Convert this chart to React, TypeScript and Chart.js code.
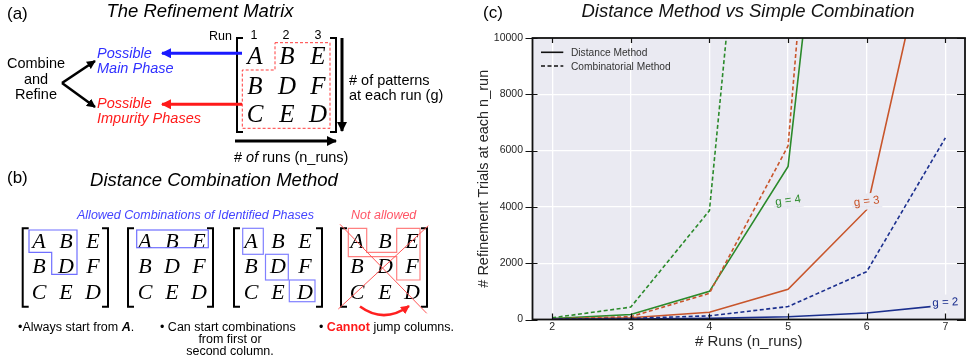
import React, { useEffect, useRef } from "react";
import { Chart, registerables } from "chart.js";
Chart.register(...registerables);

// ---------- data ----------
const runs = [2, 3, 4, 5, 6, 7];
const yTicks = [0, 2000, 4000, 6000, 8000, 10000];
const distG2 = [6, 16, 40, 100, 230, 510];
const combG2 = [10, 40, 130, 460, 1700, 6450];
const distG3 = [12, 60, 260, 1075, 3900, 16300];
const combG3 = [20, 100, 930, 6170, 39500, 240000];
const distG4 = [30, 175, 1000, 5440, 30000, 160000];
const combG4 = [60, 440, 3870, 32600, 270000, 2000000];

const BLUE = "#1b2f8e";
const ORANGE = "#c8552b";
const GREEN = "#2b8a2b";
const BG = "#EAEAF2";
const FONT = "'Liberation Sans', Arial, Helvetica, sans-serif";
const SERIF = "'Liberation Serif', 'Times New Roman', serif";

const seriesLabels = [
  { text: "g = 4", x: 5.0, y: 4220, color: GREEN, angle: -8 },
  { text: "g = 3", x: 6.0, y: 4190, color: ORANGE, angle: -7 },
  { text: "g = 2", x: 7.0, y: 600, color: BLUE, angle: -3 },
];

const pts = (arr: number[]) => runs.map((r, i) => ({ x: r, y: arr[i] }));

const decorPlugin = {
  id: "decor",
  beforeDraw(chart: any) {
    const { ctx, chartArea: a } = chart;
    ctx.save();
    ctx.fillStyle = BG;
    ctx.fillRect(a.left, a.top, a.right - a.left, a.bottom - a.top);
    ctx.restore();
  },
  afterDatasetsDraw(chart: any) {
    const { ctx } = chart;
    const xs = chart.scales.x;
    const ys = chart.scales.y;
    for (const l of seriesLabels) {
      const px = xs.getPixelForValue(l.x);
      const py = ys.getPixelForValue(l.y);
      ctx.save();
      ctx.translate(px, py);
      ctx.rotate((l.angle * Math.PI) / 180);
      ctx.font = `11.5px ${FONT}`;
      const w = ctx.measureText(l.text).width;
      ctx.fillStyle = BG;
      ctx.fillRect(-w / 2 - 2, -8, w + 4, 16);
      ctx.fillStyle = l.color;
      ctx.textAlign = "center";
      ctx.textBaseline = "middle";
      ctx.fillText(l.text, 0, 0);
      ctx.restore();
    }
  },
  afterDraw(chart: any) {
    const { ctx, chartArea: a } = chart;
    const xs = chart.scales.x;
    const ys = chart.scales.y;
    ctx.save();
    ctx.strokeStyle = "#111";
    ctx.lineWidth = 1.2;
    ctx.beginPath();
    for (const v of runs) {
      const px = Math.round(xs.getPixelForValue(v)) + 0.5;
      ctx.moveTo(px, a.top);
      ctx.lineTo(px, a.top + 5);
      ctx.moveTo(px, a.bottom);
      ctx.lineTo(px, a.bottom - 6);
    }
    for (const v of yTicks) {
      const py = Math.round(ys.getPixelForValue(v)) + 0.5;
      ctx.moveTo(a.left - 7, py);
      ctx.lineTo(a.left + 5, py);
      ctx.moveTo(a.right + 1, py);
      ctx.lineTo(a.right - 8, py);
    }
    ctx.stroke();
    ctx.lineWidth = 1.8;
    ctx.strokeStyle = "#111";
    ctx.strokeRect(a.left, a.top, a.right - a.left, a.bottom - a.top);
    ctx.restore();
  },
};

function ChartPanel() {
  const ref = useRef<HTMLCanvasElement | null>(null);
  useEffect(() => {
    if (!ref.current) return;
    const line = (arr: number[], color: string, dashed: boolean) => ({
      data: pts(arr),
      borderColor: color,
      backgroundColor: color,
      borderWidth: 1.6,
      borderDash: dashed ? [4, 2.5] : [],
      pointRadius: 0,
      tension: 0,
      fill: false,
      clip: 0,
    });
    const chart = new Chart(ref.current, {
      type: "line",
      data: {
        datasets: [
          line(distG2, BLUE, false),
          line(combG2, BLUE, true),
          line(distG3, ORANGE, false),
          line(combG3, ORANGE, true),
          line(distG4, GREEN, false),
          line(combG4, GREEN, true),
        ] as any,
      },
      options: {
        responsive: false,
        animation: false,
        devicePixelRatio: 1,
        layout: { padding: { left: 0, top: 38, right: 5, bottom: 0 } },
        plugins: {
          legend: { display: false },
          tooltip: { enabled: false },
        },
        scales: {
          x: {
            type: "linear",
            min: 1.75,
            max: 7.25,
            afterBuildTicks: (s: any) => {
              s.ticks = runs.map((v) => ({ value: v }));
            },
            afterFit: (s: any) => {
              s.height = 37.5;
            },
            grid: { color: "#ffffff", lineWidth: 1.3, drawTicks: false },
            border: { display: false },
            ticks: {
              padding: 1,
              color: "#262626",
              font: { family: FONT, size: 10.5 },
              callback: (v: any) => String(v),
            },
            title: {
              display: true,
              text: "# Runs (n_runs)",
              color: "#262626",
              font: { family: FONT, size: 15 },
              padding: { top: 0, bottom: 6 },
            },
          },
          y: {
            type: "linear",
            min: 0,
            max: 10000,
            afterBuildTicks: (s: any) => {
              s.ticks = yTicks.map((v) => ({ value: v }));
            },
            afterFit: (s: any) => {
              s.width = 72.5;
            },
            grid: { color: "#ffffff", lineWidth: 1.3, drawTicks: false },
            border: { display: false },
            ticks: {
              padding: 9.5,
              color: "#262626",
              font: { family: FONT, size: 10.5 },
              callback: (v: any) => String(v),
            },
            title: {
              display: true,
              text: "# Refinement Trials at each n_run",
              color: "#262626",
              font: { family: FONT, size: 14.5 },
              padding: { top: 15, bottom: 0 },
            },
          },
        },
      } as any,
      plugins: [decorPlugin],
    });
    return () => chart.destroy();
  }, []);
  return (
    <canvas
      ref={ref}
      width={510}
      height={357}
      style={{ position: "absolute", left: 460, top: 0, width: 510, height: 357 }}
    />
  );
}

const matA = [
  ["A", "B", "E"],
  ["B", "D", "F"],
  ["C", "E", "D"],
];

function Matrix(props: { xs: number[]; ys: number[]; size: number; left: number; right: number; top: number; bottom: number }) {
  const { xs, ys, size, left, right, top, bottom } = props;
  return (
    <g>
      <path d={`M${left + 6},${top} L${left},${top} L${left},${bottom} L${left + 6},${bottom}`} stroke="#000" strokeWidth={2} fill="none" />
      <path d={`M${right - 6},${top} L${right},${top} L${right},${bottom} L${right - 6},${bottom}`} stroke="#000" strokeWidth={2} fill="none" />
      {matA.map((row, r) =>
        row.map((c, k) => (
          <text key={`${r}-${k}`} x={xs[k]} y={ys[r]} fontFamily={SERIF} fontStyle="italic" fontSize={size} textAnchor="middle" dominantBaseline="central" fill="#000">
            {c}
          </text>
        ))
      )}
    </g>
  );
}

function Diagrams() {
  const T = { fontFamily: FONT, dominantBaseline: "central" as const };
  const rowsB = [240, 265.7, 291.7];
  return (
    <svg width={970} height={357} style={{ position: "absolute", left: 0, top: 0, pointerEvents: "none" }}>
      <defs>
        {[["ahK", "#000"], ["ahB", "#1a1aff"], ["ahR", "#ff1a1a"], ["ahR2", "#ff2020"]].map(([id, c]) => (
          <marker key={id} id={id} viewBox="0 0 10 10" refX="9" refY="5" markerWidth="3.4" markerHeight="3.4" orient="auto">
            <path d="M0,0 L10,5 L0,10 z" fill={c} />
          </marker>
        ))}
      </defs>

      {/* ---------- (a) ---------- */}
      <text {...T} x={7} y={13.5} fontSize={17}>(a)</text>
      <text {...T} x={200} y={10} fontSize={18.5} fontStyle="italic" textAnchor="middle">The Refinement Matrix</text>
      <text {...T} x={209} y={36} fontSize={12.5}>Run</text>
      <text {...T} x={254} y={35} fontSize={12.5} textAnchor="middle">1</text>
      <text {...T} x={286} y={35} fontSize={12.5} textAnchor="middle">2</text>
      <text {...T} x={318} y={35} fontSize={12.5} textAnchor="middle">3</text>
      <Matrix xs={[255, 287, 318]} ys={[55, 85, 113]} size={25} left={237} right={336} top={38} bottom={132} />
      <polygon points="275,42.7 330,42.7 330,128.3 242.3,128.3 242.3,70 275,70" fill="none" stroke="#ff3b3b" strokeWidth={1} strokeDasharray="3,2" />
      <line x1={342} y1={38} x2={342} y2={131} stroke="#000" strokeWidth={3} markerEnd="url(#ahK)" />
      <line x1={235} y1={141} x2={336} y2={141} stroke="#000" strokeWidth={3} markerEnd="url(#ahK)" />
      <line x1={242} y1={53.3} x2={162} y2={53.3} stroke="#1a1aff" strokeWidth={3} markerEnd="url(#ahB)" />
      <line x1={242} y1={104.3} x2={162} y2={104.3} stroke="#ff1a1a" strokeWidth={3} markerEnd="url(#ahR)" />
      <line x1={62} y1={83} x2={95} y2={61} stroke="#000" strokeWidth={2.6} markerEnd="url(#ahK)" />
      <line x1={62} y1={83} x2={95} y2={107} stroke="#000" strokeWidth={2.6} markerEnd="url(#ahK)" />
      <text {...T} x={36} y={63} fontSize={14.5} textAnchor="middle">Combine</text>
      <text {...T} x={36} y={79} fontSize={14.5} textAnchor="middle">and</text>
      <text {...T} x={36} y={94} fontSize={14.5} textAnchor="middle">Refine</text>
      <text {...T} x={97} y={53} fontSize={14.5} fontStyle="italic" fill="#3030ff">Possible</text>
      <text {...T} x={97} y={68} fontSize={14.5} fontStyle="italic" fill="#3030ff">Main Phase</text>
      <text {...T} x={97} y={103} fontSize={14.5} fontStyle="italic" fill="#ff1a1a">Possible</text>
      <text {...T} x={97} y={118} fontSize={14.5} fontStyle="italic" fill="#ff1a1a">Impurity Phases</text>
      <text {...T} x={349} y={80} fontSize={14.5}># of patterns</text>
      <text {...T} x={349} y={95} fontSize={14.5}>at each run (g)</text>
      <text {...T} x={234} y={157} fontSize={14.5}>
        # <tspan fontStyle="italic">of</tspan> runs (n_runs)
      </text>

      {/* ---------- (b) ---------- */}
      <text {...T} x={7} y={177} fontSize={17}>(b)</text>
      <text {...T} x={214} y={179} fontSize={18.5} fontStyle="italic" textAnchor="middle">Distance Combination Method</text>
      <text {...T} x={77} y={215} fontSize={12.5} fontStyle="italic" fill="#4444ff">Allowed Combinations of Identified Phases</text>
      <text {...T} x={351} y={215} fontSize={12.5} fontStyle="italic" fill="#ff5566">Not allowed</text>

      <Matrix xs={[39, 66, 93]} ys={rowsB} size={22} left={22.7} right={108} top={228.3} bottom={306.7} />
      <Matrix xs={[145, 172, 199]} ys={rowsB} size={22} left={128} right={213} top={228.3} bottom={306.7} />
      <Matrix xs={[251, 278, 305]} ys={rowsB} size={22} left={234} right={322} top={228.3} bottom={306.7} />
      <Matrix xs={[357, 385, 412]} ys={rowsB} size={22} left={341} right={427} top={228.3} bottom={306.7} />

      <polygon points="29,230 77,230 77,274.3 51.7,274.3 51.7,252.3 29,252.3" fill="none" stroke="#6f6fff" strokeWidth={1.2} />
      <rect x={136.7} y={230} width={71.6} height={17.7} fill="none" stroke="#6f6fff" strokeWidth={1.2} />
      <rect x={242.7} y={228.3} width={20.6} height={26} fill="none" stroke="#8080ff" strokeWidth={1.2} />
      <rect x={265.5} y={254.3} width={22.8} height={25.7} fill="none" stroke="#8080ff" strokeWidth={1.2} />
      <rect x={289.3} y={280} width={25.7} height={21.7} fill="none" stroke="#8080ff" strokeWidth={1.2} />

      <polygon points="348.3,228.3 366.7,228.3 366.7,252.3 396.7,252.3 396.7,228.3 420,228.3 420,280 396.7,280 396.7,256.7 348.3,256.7" fill="none" stroke="#ff8080" strokeWidth={1.2} />
      <line x1={340} y1={224.3} x2={426.7} y2={313.3} stroke="#ff5555" strokeWidth={1} />
      <line x1={428.3} y1={225.7} x2={338.3} y2={309} stroke="#ff5555" strokeWidth={1} />
      <path d="M360,306.5 Q384,324 409,306" fill="none" stroke="#ff2020" strokeWidth={2.6} markerEnd="url(#ahR2)" />

      <text {...T} x={18} y={327} fontSize={12.5}>
        •Always start from <tspan fontWeight="bold" fontStyle="italic">A</tspan>.
      </text>
      <text {...T} x={160} y={327} fontSize={12.5}>• Can start combinations</text>
      <text {...T} x={230} y={339} fontSize={12.5} textAnchor="middle">from first or</text>
      <text {...T} x={230} y={351} fontSize={12.5} textAnchor="middle">second column.</text>
      <text {...T} x={319} y={327} fontSize={12.5}>
        • <tspan fontWeight="bold" fill="#ff1a1a">Cannot</tspan> jump columns.
      </text>

      {/* ---------- (c) ---------- */}
      <text {...T} x={483} y={12.5} fontSize={17}>(c)</text>
      <text {...T} x={748} y={10} fontSize={18.5} fontStyle="italic" textAnchor="middle" fill="#111">Distance Method vs Simple Combination</text>
      <line x1={541} y1={52.3} x2={563.3} y2={52.3} stroke="#111" strokeWidth={1.6} />
      <line x1={541} y1={66} x2={563.3} y2={66} stroke="#111" strokeWidth={1.6} strokeDasharray="4,2.5" />
      <text {...T} x={571} y={52.3} fontSize={10.2} fill="#333">Distance Method</text>
      <text {...T} x={571} y={66} fontSize={10.2} fill="#333">Combinatorial Method</text>
    </svg>
  );
}

export default function App() {
  return (
    <div style={{ position: "absolute", left: 0, top: 0, width: 970, height: 357, background: "#fff", overflow: "hidden" }}>
      <ChartPanel />
      <Diagrams />
    </div>
  );
}
